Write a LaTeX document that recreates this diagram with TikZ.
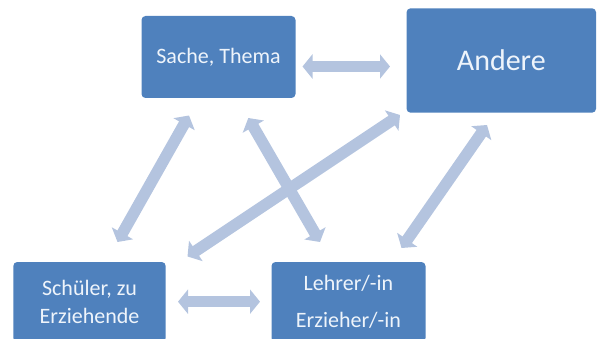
\documentclass[tikz,border=0pt]{standalone}
\usepackage{fontspec}
\setmainfont{Carlito}
\usetikzlibrary{arrows.meta}
\definecolor{boxblue}{HTML}{4F81BD}
\definecolor{arrowblue}{HTML}{B4C4DF}
\definecolor{boxtext}{HTML}{EEF4FB}
\tikzset{
  box/.style={fill=boxblue, rounded corners=4pt, text=boxtext, inner sep=0pt,
    align=center, font=\fontsize{22}{28}\selectfont},
  link/.style={draw=arrowblue, line width=11.5pt,
    {Triangle[length=10pt,width=24pt]}-{Triangle[length=10pt,width=24pt]}}
}
\begin{document}
\begin{tikzpicture}[x=1pt,y=-1pt]
  \useasboundingbox (0,0) rectangle (597,339);
  \clip (0,0) rectangle (597,339);
  \node[box, minimum width=154pt, minimum height=82pt] (sache) at (218.5,57) {Sache, Thema};
  \node[box, minimum width=189.5pt, minimum height=104.4pt, font=\fontsize{30}{36}\selectfont] (andere) at (501.3,60.5) {Andere};
  \node[box, minimum width=152.4pt, minimum height=80pt] (schueler) at (89.5,302) {Schüler, zu\\Erziehende};
  \node[box, minimum width=154pt, minimum height=80pt] (lehrer) at (348.5,302) {Lehrer/-in\\[9pt]Erzieher/-in};
  % arrow end points
  \coordinate (a1) at (302.5,66.5);  \coordinate (a2) at (390,66.5);
  \coordinate (b1) at (178,301.7);   \coordinate (b2) at (260,301.7);
  \coordinate (c1) at (189,115.5);   \coordinate (c2) at (117.5,242);
  \coordinate (d1) at (248.3,118);   \coordinate (d2) at (320,242);
  \coordinate (e1) at (400,115);     \coordinate (e2) at (187.5,256.5);
  \coordinate (f1) at (487,125);     \coordinate (f2) at (401.5,248);
  \draw[link] (a1) -- (a2);
  \draw[link] (b1) -- (b2);
  \draw[link] (c1) -- (c2);
  \draw[link] (d1) -- (d2);
  \draw[link] (e1) -- (e2);
  \draw[link] (f1) -- (f2);
\end{tikzpicture}
\end{document}
